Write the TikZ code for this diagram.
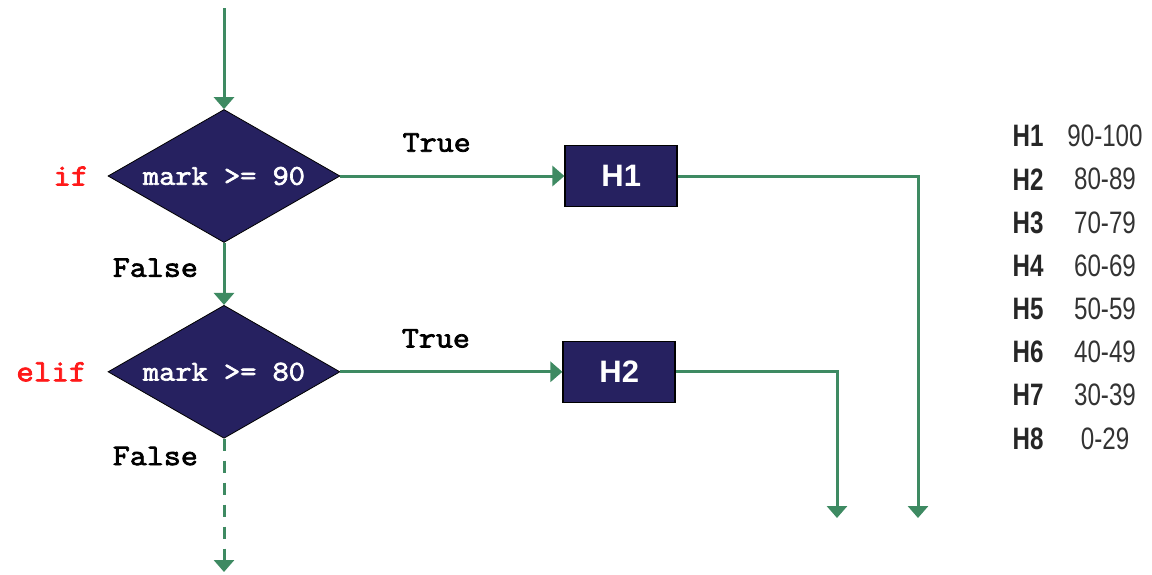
\documentclass[tikz,border=0pt]{standalone}
\usepackage{fontspec}
\usepackage{xcolor}
\usepackage{tikz}
\usetikzlibrary{shapes.geometric, arrows.meta, positioning}

\setmainfont{Liberation Sans}
\newfontfamily\codefont[FakeBold=2.5, FakeStretch=1.1]{Latin Modern Mono}
\newfontfamily\gradefont[FakeStretch=0.78]{Liberation Sans}

\definecolor{navy}{RGB}{38,33,96}
\definecolor{flow}{RGB}{62,138,98}
\definecolor{kwred}{RGB}{255,25,25}

\begin{document}
\begin{tikzpicture}[
    x=1pt, y=1pt,
    node distance=30pt,
    test/.style={diamond, aspect=1.74, draw=black, fill=navy, text=white, minimum width=116pt, minimum height=66.5pt, inner sep=0pt, font=\codefont\fontsize{14.3}{15}\selectfont},
    grade/.style={rectangle, draw=black, line width=0.8pt, fill=navy, text=white, minimum width=56pt, minimum height=30.5pt, font=\bfseries\fontsize{15.5}{16}\selectfont},
    arrow/.style={-{Triangle[width=10pt,length=6pt]}, line width=1.5pt, flow},
    keyword/.style={text=kwred, font=\codefont\fontsize{15.5}{16}\selectfont},
    branch/.style={text=black, font=\codefont\fontsize{15}{16}\selectfont},
    bandhead/.style={font=\gradefont\bfseries\fontsize{15.5}{16}\selectfont, text=black!85},
    band/.style={font=\gradefont\fontsize{15.5}{16}\selectfont, text=black!80}
]
\useasboundingbox (0,0) rectangle (576,-287);

% Decisions
\node[test] (if90) at (112,-88) {mark >= 90};
\node[test, below=31pt of if90] (if80) {mark >= 80};

% Keywords
\node[keyword, left=6pt of if90] (kwif) {if};
\node[keyword, left=7pt of if80] (kwelif) {elif};

% Grades
\node[grade, right=112pt of if90] (h1) {H1};
\node[grade, right=111pt of if80] (h2) {H2};

% Free ends
\coordinate (start) at (112,-4);
\coordinate (stop) at (112,-286);
\coordinate (out1) at (459,-259);
\coordinate (out2) at (418.5,-259);

% Arrows
\draw[arrow] (start) -- (if90);
\draw[arrow] (if90) -- node[branch, above=8pt, pos=0.43] {True} (h1);
\draw[arrow] (if80) -- node[branch, above=8pt, pos=0.43] {True} (h2);
\draw[arrow] (if90) -- node[branch, left=9pt, pos=0.4] {False} (if80);
\draw[arrow, dash pattern=on 6pt off 5pt] (if80) -- node[branch, left=9pt, pos=0.13] {False} (stop);
\draw[arrow] (h1.east) -| (out1);
\draw[arrow] (h2.east) -| (out2);

% Grade bands
\foreach \g/\range [count=\i from 0] in {H1/90-100, H2/80-89, H3/70-79, H4/60-69, H5/50-59, H6/40-49, H7/30-39, H8/0-29} {
    \node[bandhead] (head\i) at (514,{-68-21.6*\i}) {\g};
    \node[band] (range\i) at (552.5,{-68-21.6*\i}) {\range};
}

\end{tikzpicture}
\end{document}
